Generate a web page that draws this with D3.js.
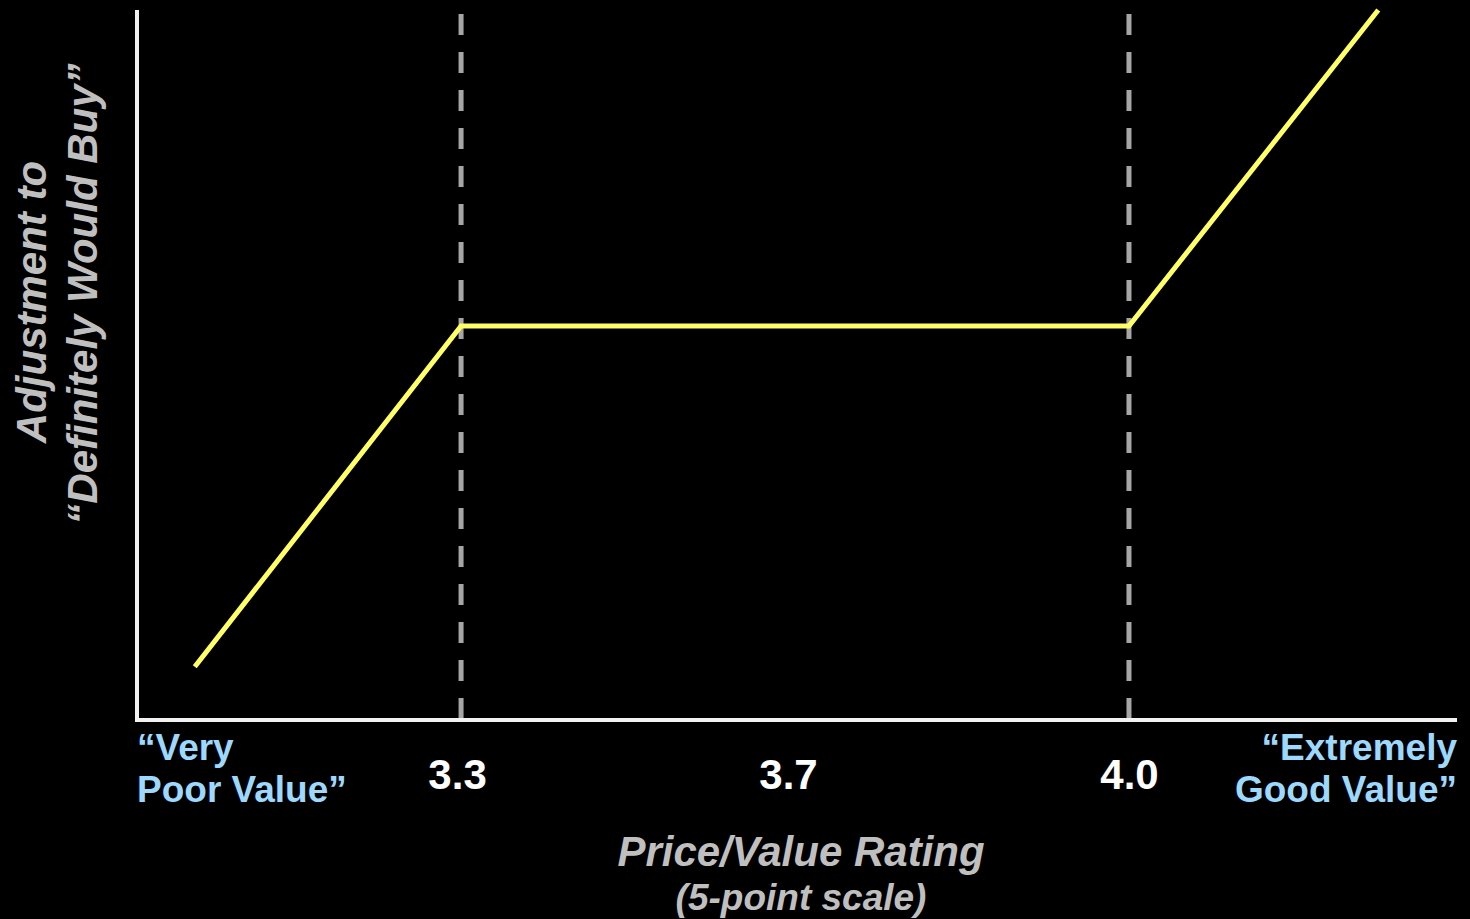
<!DOCTYPE html>
<html>
<head>
<meta charset="utf-8">
<script src="https://cdn.jsdelivr.net/npm/d3@7"></script>
<style>
  html, body { margin: 0; padding: 0; background: #000; }
  svg { display: block; }
  text { font-family: "Liberation Sans", Arial, sans-serif; font-weight: bold; }
</style>
</head>
<body>
<svg id="chart" width="1470" height="919"></svg>
<script>
// Anchor points of the 5-point price/value scale (piecewise axis)
const scaleAnchors = [1, 3.3, 3.7, 4.0, 5];
// Relative horizontal position of each anchor inside the plot area
const anchorFractions = [0, 0.2455, 0.4932, 0.7515, 1];

// Numeric tick labels and the threshold ratings marked by dashed guides
const tickRatings = [3.3, 3.7, 4.0];
const thresholdRatings = [3.3, 4.0];

// Kinked response curve: rating vs. adjustment (0-100 index)
const curveRating = [1.41, 3.3, 4.0, 4.76];
const curveAdjustment = [7.5, 55.5, 55.5, 100];

// Scale-end captions
const lowEndLabel = ["\u201CVery", "Poor Value\u201D"];
const highEndLabel = ["\u201CExtremely", "Good Value\u201D"];

// Axis titles
const yTitle = ["Adjustment to", "\u201CDefinitely Would Buy\u201D"];
const xTitle = ["Price/Value Rating", "(5-point scale)"];

const svg = d3.select("#chart");
const plot = { left: 137, right: 1457, top: 10, bottom: 720 };

const x = d3.scaleLinear()
  .domain(scaleAnchors)
  .range(anchorFractions.map(f => plot.left + f * (plot.right - plot.left)));

const y = d3.scaleLinear()
  .domain([0, 100])
  .range([plot.bottom, plot.top]);

// Dashed threshold guides
svg.append("g")
  .selectAll("line")
  .data(thresholdRatings)
  .join("line")
  .attr("x1", d => x(d)).attr("x2", d => x(d))
  .attr("y1", plot.top + 4).attr("y2", plot.bottom)
  .attr("stroke", "#a6a6a6")
  .attr("stroke-width", 5)
  .attr("stroke-dasharray", "21,17");

// Response curve
const line = d3.line()
  .x((d, i) => x(curveRating[i]))
  .y(d => y(d));

svg.append("path")
  .datum(curveAdjustment)
  .attr("d", line)
  .attr("fill", "none")
  .attr("stroke", "#ffff66")
  .attr("stroke-width", 5)
  .attr("stroke-linejoin", "miter");

// Axes (lines only, no tick marks)
const yAxis = svg.append("g")
  .attr("transform", `translate(${plot.left},0)`)
  .call(d3.axisLeft(y).tickValues([]).tickSizeOuter(0));
yAxis.select(".domain").attr("stroke", "#f2f2f2").attr("stroke-width", 4)
  .attr("d", `M0,${plot.top}V${plot.bottom + 2}`);

const xAxis = svg.append("g")
  .attr("transform", `translate(0,${plot.bottom})`)
  .call(d3.axisBottom(x).tickValues(tickRatings).tickSize(0).tickFormat(d3.format(".1f")));
xAxis.select(".domain").attr("stroke", "#f2f2f2").attr("stroke-width", 4)
  .attr("d", `M${plot.left - 2},0H${plot.right}`);
xAxis.selectAll(".tick text")
  .attr("dy", null)
  .attr("x", (d, i) => i === 0 ? -4 : 0)
  .attr("y", 69)
  .attr("fill", "#ffffff")
  .style("font-size", "42px")
  .style("font-family", "'Liberation Sans', Arial, sans-serif")
  .style("font-weight", "bold");

// Scale-end captions
const endLabels = svg.append("g")
  .style("font-size", "37px")
  .attr("fill", "#9cd8ff");

endLabels.append("text")
  .attr("text-anchor", "start")
  .selectAll("tspan")
  .data(lowEndLabel)
  .join("tspan")
  .attr("x", plot.left)
  .attr("y", (d, i) => 760 + i * 42)
  .text(d => d);

endLabels.append("text")
  .attr("text-anchor", "end")
  .selectAll("tspan")
  .data(highEndLabel)
  .join("tspan")
  .attr("x", plot.right)
  .attr("y", (d, i) => 760 + i * 42)
  .text(d => d);

// Y axis title (rotated, two lines)
svg.append("text")
  .attr("transform", "translate(0,294) rotate(-90)")
  .attr("text-anchor", "middle")
  .attr("fill", "#bfbfbf")
  .style("font-size", "42px")
  .style("font-style", "italic")
  .selectAll("tspan")
  .data(yTitle)
  .join("tspan")
  .attr("x", (d, i) => i === 0 ? -8 : 0)
  .attr("y", (d, i) => 46 + i * 51)
  .text(d => d);

// X axis title
svg.append("text")
  .attr("text-anchor", "middle")
  .attr("fill", "#bfbfbf")
  .style("font-style", "italic")
  .selectAll("tspan")
  .data(xTitle)
  .join("tspan")
  .attr("x", 801)
  .attr("y", (d, i) => 866 + i * 44)
  .style("font-size", (d, i) => i === 0 ? "42px" : "37px")
  .text(d => d);
</script>
</body>
</html>
